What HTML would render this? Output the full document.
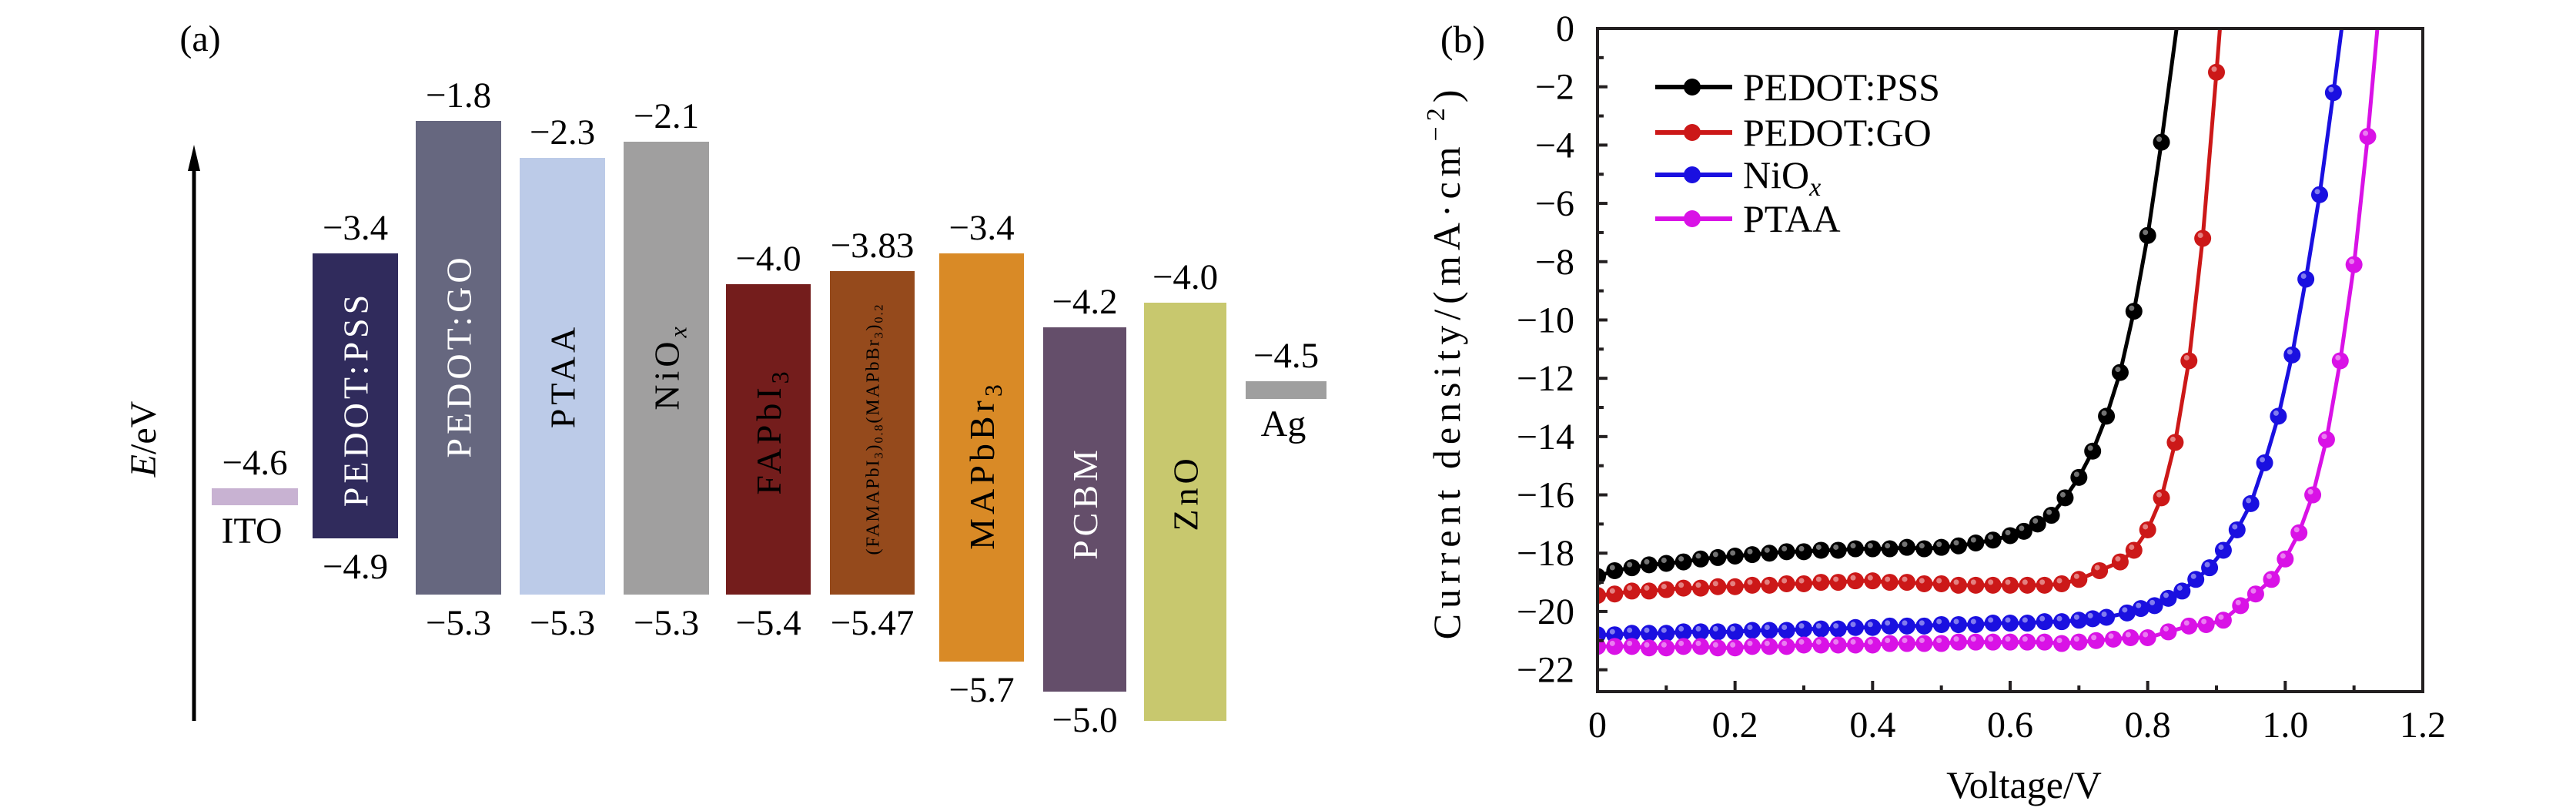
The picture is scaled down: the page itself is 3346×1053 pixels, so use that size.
<!DOCTYPE html>
<html><head><meta charset="utf-8"><style>
html,body{margin:0;padding:0;background:#fff}
svg{display:block}
text{font-family:"Liberation Serif",serif}
</style></head><body>
<svg id="fig" width="3346" height="1053" viewBox="0 0 3346 1053" xmlns="http://www.w3.org/2000/svg">
<g id="panelA">
<text x="260" y="66" font-size="48" text-anchor="middle">(a)</text>
<line x1="252" y1="936" x2="252" y2="215" stroke="#000" stroke-width="5"/>
<polygon points="252,188 244,222 260,222" fill="#000"/>
<text transform="translate(202,570) rotate(-90)" font-size="48" text-anchor="middle"><tspan font-style="italic">E</tspan>/eV</text>
</g>
<g id="panelB">
<text x="1900" y="68" font-size="50" text-anchor="middle">(b)</text>
<text transform="translate(1896,470) rotate(-90)" font-size="50" text-anchor="middle" letter-spacing="7">Current density/(mA·cm<tspan dy="-20" font-size="34">−2</tspan><tspan dy="20">)</tspan></text>
<text x="2629" y="1036" font-size="50" text-anchor="middle">Voltage/V</text>
</g>
</svg>
<script>
const NS="http://www.w3.org/2000/svg";
const svg=document.getElementById('fig');
function mk(tag,attrs,parent){const e=document.createElementNS(NS,tag);for(const k in attrs)e.setAttribute(k,attrs[k]);(parent||svg).appendChild(e);return e;}

// ---------- Panel (a) data ----------
const layerNames=["ITO","PEDOT:PSS","PEDOT:GO","PTAA","NiOx","FAPbI3","FAMA","MAPbBr3","PCBM","ZnO","Ag"];
const layerTop=["−4.6","−3.4","−1.8","−2.3","−2.1","−4.0","−3.83","−3.4","−4.2","−4.0","−4.5"];
const layerBottom=["","−4.9","−5.3","−5.3","−5.3","−5.4","−5.47","−5.7","−5.0","",""];
const layerColors=["#c8b2d2","#302b5c","#66677f","#bccbe8","#a09f9f","#741d1c","#954a1c","#d98a26","#644e6a","#c8c86e","#9f9f9f"];
const boxX=[275,406,540,675,810,943,1078,1220,1355,1486,1618];
const boxW=[112,111,111,111,111,110,110,110,108,107,105];
const boxY=[634,329,157,205,184,369,352,329,425,393,495];
const boxH=[22,370,615,567,588,403,420,530,473,543,23];
const pa=document.getElementById('panelA');
for(let i=0;i<layerNames.length;i++){
  const r=mk('rect',{x:boxX[i],y:boxY[i],width:boxW[i],height:boxH[i],fill:layerColors[i]},pa);
  
  
  const cx=boxX[i]+boxW[i]/2;
  const t=mk('text',{x:cx,y:boxY[i]-18,'font-size':47,'text-anchor':'middle'},pa);
  t.textContent=layerTop[i];
  
  
  if(layerBottom[i]){
    const b=mk('text',{x:cx,y:boxY[i]+boxH[i]+52,'font-size':47,'text-anchor':'middle'},pa);
    b.textContent=layerBottom[i];
    
    
  }
}
const ito=mk('text',{x:327,y:705,'font-size':48,'text-anchor':'middle'},pa);ito.textContent="ITO";


const ag=mk('text',{x:1667,y:566,'font-size':48,'text-anchor':'middle'},pa);ag.textContent="Ag";


const inLabels=[
 [1,518,'#fff','PEDOT:PSS',46],
 [2,462,'#fff','PEDOT:GO',46],
 [3,488,'#000','PTAA',46],
 [4,476,'#000','NiO<tspan font-style="italic" font-size="32" dy="10">x</tspan>',46],
 [5,560,'#000','FAPbI<tspan font-size="32" dy="10">3</tspan>',46],
 [6,557,'#000','(FAMAPbI<tspan font-size="16" dy="5">3</tspan><tspan dy="-5">)</tspan><tspan font-size="16" dy="5">0.8</tspan><tspan dy="-5">(MAPbBr</tspan><tspan font-size="16" dy="5">3</tspan><tspan dy="-5">)</tspan><tspan font-size="16" dy="5">0.2</tspan>',24],
 [7,604,'#000','MAPbBr<tspan font-size="32" dy="10">3</tspan>',46],
 [8,653,'#fff','PCBM',46],
 [9,640,'#000','ZnO',46]];
inLabels.forEach(l=>{
  const cx=boxX[l[0]]+boxW[l[0]]/2+l[4]*0.35;
  const t=mk('text',{transform:`translate(${cx},${l[1]}) rotate(-90)`,'font-size':l[4],'text-anchor':'middle',fill:l[2],'letter-spacing':l[4]>30?5:2},pa);
  t.innerHTML=l[3];
  
  
});

// ---------- Panel (b) data ----------
const xTicks=[0,0.2,0.4,0.6,0.8,1.0,1.2];
const xTickLabels=["0","0.2","0.4","0.6","0.8","1.0","1.2"];
const yTicks=[0,-2,-4,-6,-8,-10,-12,-14,-16,-18,-20,-22];
const yTickLabels=["0","−2","−4","−6","−8","−10","−12","−14","−16","−18","−20","−22"];
const seriesNames=["PEDOT:PSS","PEDOT:GO","NiOx","PTAA"];
const seriesColors=["#000000","#cc1818","#1a10e0","#d912e6"];
const vPSS=[0,0.025,0.05,0.075,0.1,0.125,0.15,0.175,0.2,0.225,0.25,0.275,0.3,0.325,0.35,0.375,0.4,0.425,0.45,0.475,0.5,0.525,0.55,0.575,0.6,0.62,0.64,0.66,0.68,0.70,0.72,0.74,0.76,0.78,0.80,0.82,0.842];
const jPSS=[-18.8,-18.6,-18.5,-18.4,-18.35,-18.3,-18.2,-18.15,-18.1,-18.05,-18.0,-17.95,-17.95,-17.9,-17.9,-17.85,-17.85,-17.85,-17.8,-17.85,-17.8,-17.75,-17.65,-17.55,-17.4,-17.25,-17.0,-16.7,-16.1,-15.4,-14.5,-13.3,-11.8,-9.7,-7.1,-3.9,0];
const vGO=[0,0.025,0.05,0.075,0.1,0.125,0.15,0.175,0.2,0.225,0.25,0.275,0.3,0.325,0.35,0.375,0.4,0.425,0.45,0.475,0.5,0.525,0.55,0.575,0.6,0.625,0.65,0.675,0.7,0.73,0.76,0.78,0.80,0.82,0.84,0.86,0.88,0.90,0.905];
const jGO=[-19.45,-19.4,-19.3,-19.3,-19.25,-19.2,-19.2,-19.15,-19.15,-19.1,-19.1,-19.05,-19.05,-19.0,-19.0,-18.95,-18.95,-19.0,-19.0,-19.05,-19.05,-19.1,-19.1,-19.1,-19.1,-19.1,-19.1,-19.05,-18.9,-18.6,-18.3,-17.9,-17.2,-16.1,-14.2,-11.4,-7.2,-1.5,0];
const vNiO=[0,0.025,0.05,0.075,0.1,0.125,0.15,0.175,0.2,0.225,0.25,0.275,0.3,0.325,0.35,0.375,0.4,0.425,0.45,0.475,0.5,0.525,0.55,0.575,0.6,0.625,0.65,0.675,0.7,0.72,0.74,0.77,0.79,0.81,0.83,0.85,0.87,0.89,0.91,0.93,0.95,0.97,0.99,1.01,1.03,1.05,1.07,1.082];
const jNiO=[-20.8,-20.8,-20.75,-20.75,-20.75,-20.7,-20.7,-20.7,-20.7,-20.65,-20.65,-20.65,-20.6,-20.6,-20.6,-20.55,-20.55,-20.5,-20.5,-20.5,-20.45,-20.45,-20.45,-20.4,-20.4,-20.4,-20.35,-20.35,-20.3,-20.25,-20.2,-20.05,-19.9,-19.8,-19.55,-19.3,-18.9,-18.5,-17.9,-17.2,-16.3,-14.9,-13.3,-11.2,-8.6,-5.7,-2.2,0];
const vPTAA=[0,0.025,0.05,0.075,0.1,0.125,0.15,0.175,0.2,0.225,0.25,0.275,0.3,0.325,0.35,0.375,0.4,0.425,0.45,0.475,0.5,0.525,0.55,0.575,0.6,0.625,0.65,0.675,0.7,0.725,0.75,0.775,0.8,0.83,0.86,0.885,0.91,0.935,0.957,0.98,1.0,1.02,1.04,1.06,1.08,1.10,1.12,1.134];
const jPTAA=[-21.2,-21.2,-21.2,-21.25,-21.25,-21.2,-21.2,-21.25,-21.25,-21.2,-21.2,-21.2,-21.15,-21.15,-21.15,-21.15,-21.15,-21.1,-21.1,-21.1,-21.1,-21.05,-21.05,-21.05,-21.05,-21.05,-21.05,-21.1,-21.05,-21.0,-20.95,-20.9,-20.9,-20.7,-20.5,-20.45,-20.3,-19.8,-19.4,-18.9,-18.2,-17.3,-16.0,-14.1,-11.4,-8.1,-3.7,0];
const seriesV=[vPSS,vGO,vNiO,vPTAA];
const seriesJ=[jPSS,jGO,jNiO,jPTAA];

const X0=2075,X1=3147,Y0=37,Y1=898,XMIN=0,XMAX=1.2,YMAX=0,YMIN=-22.75;
const xs=v=>X0+(v-XMIN)/(XMAX-XMIN)*(X1-X0);
const ys=j=>Y0+(YMAX-j)/(YMAX-YMIN)*(Y1-Y0);
const pb=document.getElementById('panelB');
const clip=mk('clipPath',{id:'plotclip'},pb);
mk('rect',{x:X0,y:Y0,width:X1-X0,height:Y1-Y0},clip);

for(let s=0;s<seriesNames.length;s++){
  const g=mk('g',{'clip-path':'url(#plotclip)'},pb);
  
  
  const pts=seriesV[s].map((v,i)=>xs(v).toFixed(1)+','+ys(seriesJ[s][i]).toFixed(1)).join(' ');
  const pl=mk('polyline',{points:pts,fill:'none',stroke:seriesColors[s],'stroke-width':5,'stroke-linejoin':'round'},g);
  
  
  seriesV[s].forEach((v,i)=>{
    if(seriesJ[s][i]===0) return;
    const c=mk('circle',{cx:xs(v),cy:ys(seriesJ[s][i]),r:11,fill:seriesColors[s]},g);
    
    
    const h=mk('circle',{cx:xs(v)-3,cy:ys(seriesJ[s][i])-4,r:3.5,fill:'#fff','fill-opacity':0.45},g);
    
    
  });
}
const fr=mk('rect',{x:X0,y:Y0,width:X1-X0,height:Y1-Y0,fill:'none',stroke:'#231f20','stroke-width':4},pb);


xTicks.forEach((v,i)=>{
  const l=mk('line',{x1:xs(v),y1:Y1,x2:xs(v),y2:Y1-14,stroke:'#231f20','stroke-width':4},pb);
  
  
  const t=mk('text',{x:xs(v),y:957,'font-size':48,'text-anchor':'middle'},pb);
  t.textContent=xTickLabels[i];
  
  
  if(i<xTicks.length-1){
    const m=mk('line',{x1:xs(v+0.1),y1:Y1,x2:xs(v+0.1),y2:Y1-8,stroke:'#231f20','stroke-width':4},pb);
    
    
  }
});
yTicks.forEach((j,i)=>{
  const l=mk('line',{x1:X0,y1:ys(j),x2:X0+13,y2:ys(j),stroke:'#231f20','stroke-width':4},pb);
  
  
  const t=mk('text',{x:2045,y:ys(j)+16,'font-size':48,'text-anchor':'end'},pb);
  t.textContent=yTickLabels[i];
  
  
  if(j-1>=YMIN){
    const m=mk('line',{x1:X0,y1:ys(j-1),x2:X0+8,y2:ys(j-1),stroke:'#231f20','stroke-width':4},pb);
    
    
  }
});
const legY=[113,172,227,284];
seriesNames.forEach((n,i)=>{
  const g=mk('g',{},pb);
  
  
  mk('line',{x1:2150,y1:legY[i],x2:2250,y2:legY[i],stroke:seriesColors[i],'stroke-width':6},g);
  mk('circle',{cx:2198,cy:legY[i],r:11,fill:seriesColors[i]},g);
  const t=mk('text',{x:2264,y:legY[i]+17,'font-size':50},g);
  t.innerHTML=n==='NiOx'?'NiO<tspan font-style="italic" font-size="34" dy="10">x</tspan>':n;
});
</script>
</body></html>
